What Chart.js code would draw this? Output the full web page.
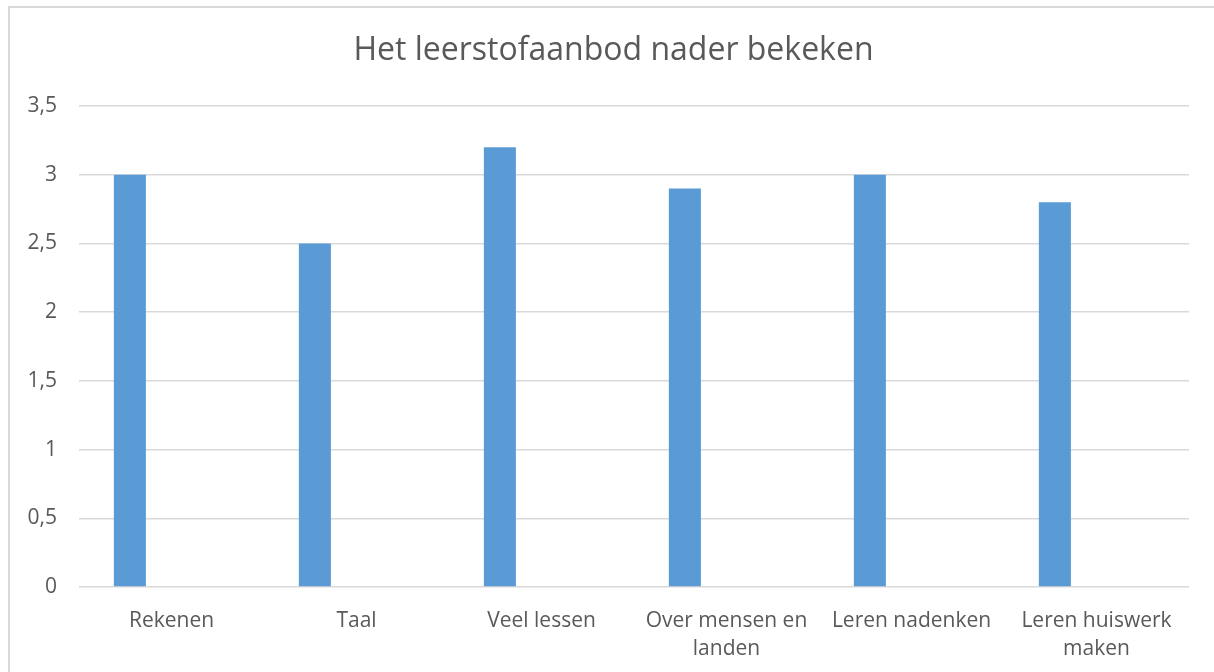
<!DOCTYPE html>
<html>
<head>
<meta charset="utf-8">
<script src="https://cdn.jsdelivr.net/npm/chart.js@4/dist/chart.umd.min.js"></script>
<style>
  html, body { margin: 0; padding: 0; background: #fff; }
  #wrap { width: 1214px; height: 672px; position: relative; }
</style>
</head>
<body>
<div id="wrap"><canvas id="chart"></canvas></div>
<script>
const categories = [
  "Rekenen",
  "Taal",
  "Veel lessen",
  ["Over mensen en", "landen"],
  "Leren nadenken",
  ["Leren huiswerk", "maken"]
];
const scores = [3, 2.5, 3.2, 2.9, 3, 2.8];
const emptySeries = [null, null, null, null, null, null];
const yTickLabels = ["0", "0,5", "1", "1,5", "2", "2,5", "3", "3,5"];

const textColor = "#595959";
const gridColor = "#D9D9D9";
const fontFamily = "'Open Sans', 'Liberation Sans', sans-serif";

// thin frame like the office chart border (left and top only visible)
const framePlugin = {
  id: "frame",
  afterLayout(chart) {
    // left padding is only there to centre the title; let the y labels use it
    chart.scales.y.left = 0;
  },
  beforeDraw(chart) {
    const ctx = chart.ctx;
    ctx.save();
    ctx.strokeStyle = gridColor;
    ctx.lineWidth = 2;
    ctx.beginPath();
    ctx.moveTo(9, 672);
    ctx.lineTo(9, 7);
    ctx.lineTo(1214, 7);
    ctx.stroke();
    ctx.restore();
  }
};

const ctx = document.getElementById("chart").getContext("2d");
new Chart(ctx, {
  type: "bar",
  data: {
    labels: categories,
    datasets: [
      {
        label: "Score",
        data: scores,
        backgroundColor: "#5B9BD5",
        borderWidth: 0,
        categoryPercentage: 0.9,
        barPercentage: 0.385
      },
      {
        label: "",
        data: emptySeries,
        backgroundColor: "#ED7D31",
        categoryPercentage: 0.9,
        barPercentage: 0.385
      }
    ]
  },
  options: {
    responsive: true,
    maintainAspectRatio: false,
    animation: false,
    layout: { padding: { left: 38, right: 25, top: 0, bottom: 0 } },
    plugins: {
      legend: { display: false },
      tooltip: { enabled: false },
      title: {
        display: true,
        text: "Het leerstofaanbod nader bekeken",
        color: textColor,
        font: { family: fontFamily, size: 32, weight: "normal", lineHeight: 1.2 },
        padding: { top: 32, bottom: 35.6 }
      }
    },
    scales: {
      x: {
        grid: { display: false, drawTicks: false },
        border: { display: false },
        ticks: {
          color: textColor,
          font: { family: fontFamily, size: 21, lineHeight: 1.33 },
          padding: 20,
          maxRotation: 0,
          autoSkip: false
        },
        afterFit(scale) { scale.height = 85; }
      },
      y: {
        min: 0,
        max: 3.5,
        grid: { color: gridColor, lineWidth: 1.5, drawTicks: false },
        border: { display: false },
        ticks: {
          stepSize: 0.5,
          color: textColor,
          font: { family: fontFamily, size: 21 },
          padding: 22,
          callback: (value, index) => yTickLabels[index]
        },
        afterFit(scale) { scale.width = 41; }
      }
    }
  },
  plugins: [framePlugin]
});
</script>
</body>
</html>
